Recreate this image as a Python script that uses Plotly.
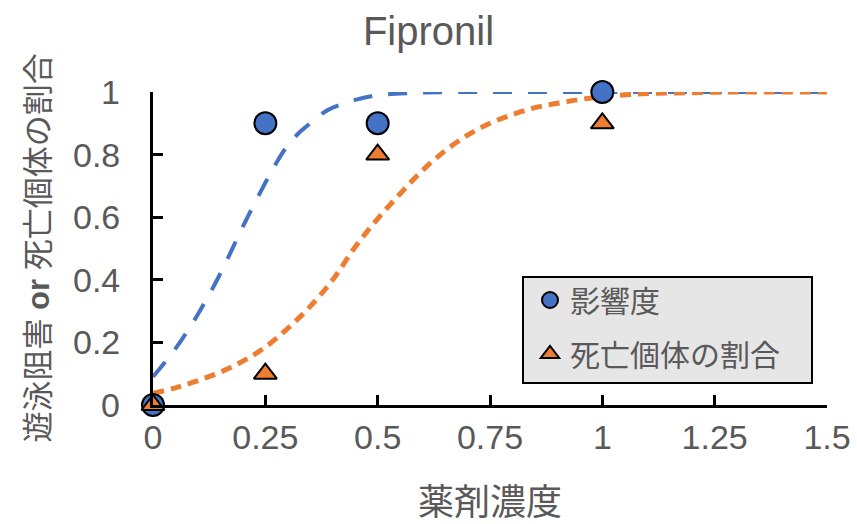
import plotly.graph_objects as go

# Measured responses at each concentration
conc = [0, 0.25, 0.5, 1]
effect = [0, 0.9, 0.9, 1]          # 影響度
mortality = [0, 0.1, 0.8, 0.9]     # 死亡個体の割合

# Fitted dose-response curves (sampled points)
fit_x_effect = [0, 0.05, 0.1, 0.15, 0.2, 0.25, 0.275, 0.3, 0.325, 0.35, 0.375, 0.4, 0.45, 0.5,
                0.55, 0.6, 0.7, 0.8, 1.0, 1.2, 1.5]
fit_y_effect = [0.09, 0.18, 0.29, 0.42, 0.57, 0.71, 0.775, 0.83, 0.87, 0.90, 0.93, 0.95, 0.975, 0.99,
                0.995, 0.998, 1.0, 1.0, 1.0, 1.0, 1.0]

fit_x_mort = [0, 0.05, 0.1, 0.15, 0.2, 0.25, 0.3, 0.35, 0.4, 0.45, 0.5, 0.55, 0.6, 0.65, 0.7,
              0.75, 0.8, 0.85, 0.9, 0.95, 1.0, 1.05, 1.1, 1.2, 1.3, 1.5]
fit_y_mort = [0.037, 0.055, 0.078, 0.105, 0.14, 0.185, 0.245, 0.315, 0.40, 0.505, 0.595, 0.675, 0.75, 0.812, 0.862,
              0.90, 0.928, 0.95, 0.964, 0.976, 0.985, 0.991, 0.995, 0.998, 1.0, 1.0]

x_ticks = [0, 0.25, 0.5, 0.75, 1, 1.25, 1.5]
x_tick_text = ["0", "0.25", "0.5", "0.75", "1", "1.25", "1.5"]
y_ticks = [0, 0.2, 0.4, 0.6, 0.8, 1]
y_tick_text = ["0", "0.2", "0.4", "0.6", "0.8", "1"]

BLUE = "#4472C4"
ORANGE = "#ED7D31"
GRAY = "#595959"
FONT = "Liberation Sans, Noto Sans CJK JP, sans-serif"

# plot-area geometry in pixels, used to place the legend frame and axis titles
W, H = 857, 524
ML, MR, MT, MB = 153, 30, 92, 119
PW, PH = W - ML - MR, H - MT - MB


def px_x(p):
    return (p - ML) / PW


def px_y(p):
    return (H - MB - p) / PH


fig = go.Figure()

fig.add_trace(go.Scatter(
    x=fit_x_effect, y=fit_y_effect, mode="lines", line_shape="spline",
    line=dict(color=BLUE, width=4, dash="19px,16px"),
    showlegend=False, hoverinfo="skip", cliponaxis=False,
))
fig.add_trace(go.Scatter(
    x=fit_x_mort, y=fit_y_mort, mode="lines", line_shape="spline",
    line=dict(color=ORANGE, width=5, dash="11px,7px"),
    showlegend=False, hoverinfo="skip", cliponaxis=False,
))

fig.add_trace(go.Scatter(
    x=conc, y=effect, mode="markers", name="影響度",
    marker=dict(symbol="circle", size=22, color=BLUE, line=dict(color="black", width=2)),
    cliponaxis=False, legendgroup="a",
))
fig.add_trace(go.Scatter(
    x=conc, y=mortality, mode="markers", name="死亡個体の割合",
    marker=dict(symbol="triangle-up", size=20, color=ORANGE, line=dict(color="black", width=2)),
    cliponaxis=False, legendgroup="b",
))

# legend frame
fig.add_shape(
    type="rect", xref="paper", yref="paper", layer="below",
    x0=px_x(523), x1=px_x(812), y0=px_y(383), y1=px_y(277),
    fillcolor="#E6E6E6", line=dict(color="black", width=2),
)

# y tick labels, set a little away from the axis line
for v, t in zip(y_ticks, y_tick_text):
    fig.add_annotation(
        text=t, xref="paper", yref="y", x=px_x(122), y=v,
        xanchor="right", yanchor="middle", showarrow=False,
        font=dict(size=34, color=GRAY),
    )

# axis titles
fig.add_annotation(
    text="遊泳阻害 <b>or</b> 死亡個体の割合", textangle=-90,
    xref="paper", yref="paper", x=px_x(38), y=0.5,
    xanchor="center", yanchor="middle", showarrow=False,
    font=dict(size=31, color=GRAY),
)
fig.add_annotation(
    text="薬剤濃度",
    xref="paper", yref="paper", x=0.5, y=px_y(502),
    xanchor="center", yanchor="middle", showarrow=False,
    font=dict(size=36, color=GRAY),
)

fig.update_layout(
    width=W, height=H,
    margin=dict(l=ML, r=MR, t=MT, b=MB, autoexpand=False),
    paper_bgcolor="white", plot_bgcolor="white",
    font=dict(family=FONT, color=GRAY, size=30),
    title=dict(text="Fipronil", x=0.5, xref="container", xanchor="center",
               y=0.94, yref="container", yanchor="middle",
               font=dict(size=40, color=GRAY)),
    legend=dict(
        x=px_x(530), y=px_y(274), xanchor="left", yanchor="top",
        bgcolor="rgba(0,0,0,0)", borderwidth=0,
        font=dict(size=30, color=GRAY),
        traceorder="grouped", tracegroupgap=12,
        itemwidth=30,
    ),
    showlegend=True,
)

fig.update_xaxes(
    range=[0, 1.5], tickmode="array", tickvals=x_ticks, ticktext=x_tick_text,
    showgrid=False, zeroline=False, showline=True, linecolor="black", linewidth=3,
    ticks="inside", ticklen=10, tickwidth=3, tickcolor="black",
    tickfont=dict(size=34, color=GRAY), automargin=False,
)
fig.update_yaxes(
    range=[0, 1], tickmode="array", tickvals=y_ticks, showticklabels=False,
    showgrid=False, zeroline=False, showline=True, linecolor="black", linewidth=3,
    ticks="inside", ticklen=10, tickwidth=3, tickcolor="black",
    automargin=False,
)

fig.write_html("out.html")
